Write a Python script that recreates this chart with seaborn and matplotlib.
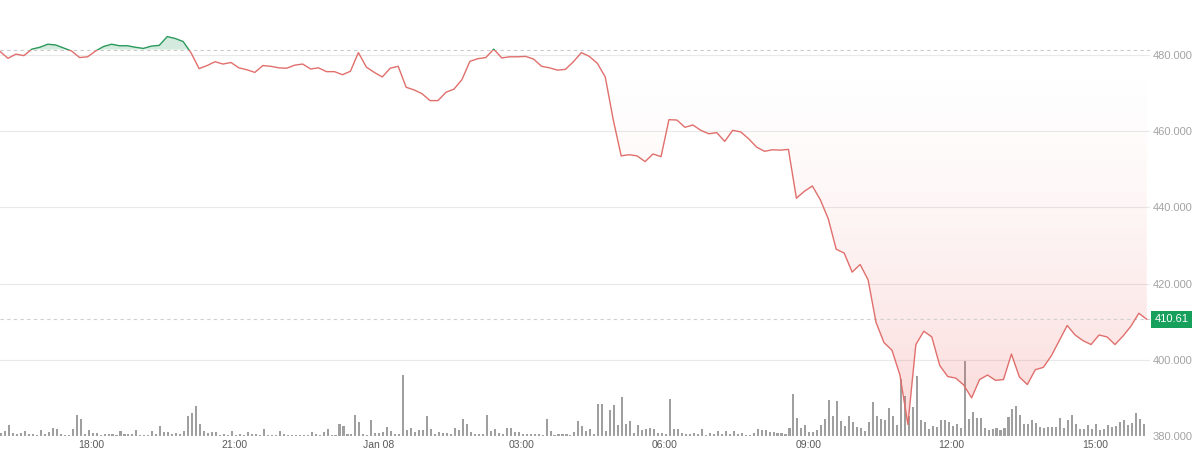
import numpy as np
import pandas as pd
import matplotlib
matplotlib.use("Agg")
import matplotlib.pyplot as plt
import matplotlib.dates as mdates
import matplotlib.transforms as mtransforms
from matplotlib.patches import Rectangle
from matplotlib.path import Path
import seaborn as sns

# ---- data ----
start = pd.Timestamp("2024-01-07 16:05")
price_times = pd.date_range(start, periods=145, freq="10min")
price = [480.9, 479.1, 480.2, 479.8, 481.5, 482.0, 482.8, 482.6, 481.8, 481.0,
         479.3, 479.5, 481.0, 482.2, 482.8, 482.4, 482.4, 482.0, 481.7, 482.3,
         482.5, 484.8, 484.3, 483.5, 480.5, 476.4, 477.2, 478.2, 477.6, 478.0,
         476.6, 476.1, 475.4, 477.2, 477.0, 476.6, 476.5, 477.3, 477.6, 476.3,
         476.6, 475.6, 475.6, 474.8, 475.7, 480.6, 476.8, 475.4, 474.2, 476.5,
         477.0, 471.5, 470.8, 469.8, 468.0, 468.0, 470.2, 471.0, 473.5, 478.3,
         479.0, 479.3, 481.5, 479.2, 479.5, 479.5, 479.6, 478.9, 477.0, 476.6,
         476.0, 476.2, 478.2, 480.6, 479.6, 477.8, 474.2, 463.0, 453.5, 453.8,
         453.5, 452.0, 454.0, 453.3, 463.0, 462.9, 461.0, 461.6, 460.2, 459.3,
         459.6, 457.3, 460.2, 459.8, 458.0, 455.8, 454.7, 455.1, 455.0, 455.2,
         442.4, 444.2, 445.6, 442.0, 437.0, 429.0, 428.0, 423.0, 425.0, 421.0,
         409.8, 404.5, 402.5, 396.0, 383.0, 404.0, 407.5, 406.0, 398.5, 395.6,
         395.2, 393.4, 390.0, 394.8, 396.0, 394.6, 394.8, 401.5, 395.5, 393.5,
         397.4, 398.0, 401.0, 405.0, 409.0, 406.5, 405.0, 404.0, 406.5, 406.0,
         404.0, 406.2, 408.8, 412.2, 410.61]

volume = [10, 15, 32, 9, 7, 10, 15, 5, 5, 3, 17, 7, 12, 24, 22, 5, 3, 4, 20, 64,
          52, 5, 17, 9, 9, 2, 7, 7, 7, 2, 15, 7, 5, 5, 17, 3, 2, 3, 15, 7,
          30, 11, 11, 5, 9, 5, 15, 59, 69, 90, 37, 14, 9, 11, 13, 3, 7, 2, 16, 4,
          5, 3, 11, 5, 5, 3, 20, 3, 2, 2, 16, 5, 2,
          2, 2, 2, 3, 3, 11, 5, 3, 11, 22, 3, 3, 35, 29, 5, 5, 63, 42, 5, 3,
          49, 9, 9, 13, 28, 15, 7, 5, 182, 19, 23, 11, 19, 17, 61, 22, 7, 12, 10, 9,
          5, 24, 19, 50, 37, 11, 7, 5, 7, 64, 14, 20, 10, 7, 25, 25, 11, 12, 7, 7,
          5, 5, 5, 3, 51, 15, 3, 5, 7, 5,
          4, 11, 45, 29, 15, 22, 7, 97, 97, 14, 77, 94, 34, 117, 35, 45, 10, 34, 17, 20,
          24, 22, 9, 10, 7, 112, 22, 22, 10, 7, 7, 10, 7, 21, 3, 10, 7, 14, 7, 15,
          7, 15, 7, 9, 2, 2, 10, 20, 17, 17, 11, 13, 9, 9, 7, 24, 125, 54, 25, 32,
          12, 12, 17, 34, 50, 107, 60, 105, 44, 29, 60,
          42, 27, 24, 14, 42, 102, 59, 52, 49, 85, 60, 34, 172, 119, 60, 87, 179, 49, 42, 22,
          30, 27, 47, 49, 42, 29, 37, 25, 228, 52, 72, 54, 54, 25, 19, 22, 25, 17, 25, 57,
          80, 90, 64, 35, 37, 47, 39, 27, 25, 27, 27, 27, 54, 25, 49, 62, 37, 20, 20, 34,
          20, 37, 19, 22, 32, 27, 31, 42, 47, 32, 39, 69, 52, 35]
vol_times = pd.date_range(start, periods=len(volume), freq="5min")

baseline = 481.4
last_price = 410.61
price_ticks = [380, 400, 420, 440, 460, 480]
time_ticks = pd.date_range("2024-01-07 18:00", periods=8, freq="3h")
time_labels = ["18:00", "21:00", "Jan 08", "03:00", "06:00", "09:00", "12:00", "15:00"]

# ---- plot ----
sns.set_style("white")
plt.rcParams["font.family"] = ["Liberation Sans", "DejaVu Sans"]

red = "#e06f6c"
green = "#2a9a5c"

fig = plt.figure(figsize=(12, 4.58), dpi=100)
ax = fig.add_axes([0, 22 / 458, 1150 / 1200, 436 / 458])
ax2 = ax.twinx()

# volume bars on the bottom axis
ax.bar(vol_times, volume, width=pd.Timedelta(minutes=2.6), align="edge",
       color="#9f9f9f", linewidth=0)
ax.set_ylim(0, 1308)
ax.set_yticks([])

x0 = mdates.date2num(price_times[0])
x1 = mdates.date2num(price_times[-1])
p = np.array(price)

# green fill above the baseline
ax2.fill_between(price_times, p, baseline, where=p >= baseline, interpolate=True,
                 color=green, alpha=0.2, linewidth=0)

# red gradient below the baseline, clipped to the area under the baseline
poly = ax2.fill_between(price_times, p, baseline, where=p <= baseline, interpolate=True,
                        color="none", linewidth=0)
clip = Path.make_compound_path(*poly.get_paths())
grad = np.zeros((256, 1, 4))
grad[..., 0], grad[..., 1], grad[..., 2] = 0.93, 0.33, 0.33
grad[:, 0, 3] = 0.22 * np.linspace(1.0, 0.0, 256) ** 1.6
img = ax2.imshow(grad, extent=[x0, x1, 383, baseline], origin="lower",
                 aspect="auto", zorder=1)
img.set_clip_path(clip, transform=ax2.transData)

# price line, red below the baseline and green above it
sns.lineplot(x=price_times, y=price, ax=ax2, color=red, linewidth=1.0, zorder=3)
red_line = ax2.lines[-1]
sns.lineplot(x=price_times, y=price, ax=ax2, color=green, linewidth=1.0, zorder=3)
green_line = ax2.lines[-1]
clip_lo = Rectangle((x0 - 1, 370), x1 - x0 + 2, baseline - 370, transform=ax2.transData)
clip_hi = Rectangle((x0 - 1, baseline), x1 - x0 + 2, 30, transform=ax2.transData)
red_line.set_clip_path(clip_lo)
green_line.set_clip_path(clip_hi)

ax2.axhline(baseline, color="#c9c9c9", linewidth=0.8, linestyle=(0, (3, 3)), zorder=2)
ax2.axhline(last_price, color="#cfcfcf", linewidth=0.8, linestyle=(0, (3, 3)), zorder=2)

ax2.set_ylim(380, 494.4)
ax2.set_xlim(start, start + pd.Timedelta(hours=24, minutes=4))
ax2.set_yticks(price_ticks)
ax2.set_yticklabels([f"{v:.3f}" for v in price_ticks])
ax2.yaxis.grid(True, color="#e9e9e9", linewidth=0.8)
ax2.set_axisbelow(True)
ax2.tick_params(axis="y", length=0, pad=2, labelsize=8, labelcolor="#a3a3a3")
ax2.set_ylabel("")

ax.set_xticks(time_ticks)
ax.set_xticklabels(time_labels)
ax.tick_params(axis="x", length=0, pad=3, labelsize=7.5, labelcolor="#5a5a5a")

for a in (ax, ax2):
    for s in a.spines.values():
        s.set_visible(False)

# last price tag
trans = mtransforms.blended_transform_factory(ax2.transAxes, ax2.transData)
ax2.text(1.004, last_price, f"{last_price:.2f}", transform=trans, ha="left", va="center",
         color="white", fontsize=8,
         bbox=dict(boxstyle="square,pad=0.3", fc="#16a05c", ec="none"))

fig.savefig("out.png", dpi=100)
